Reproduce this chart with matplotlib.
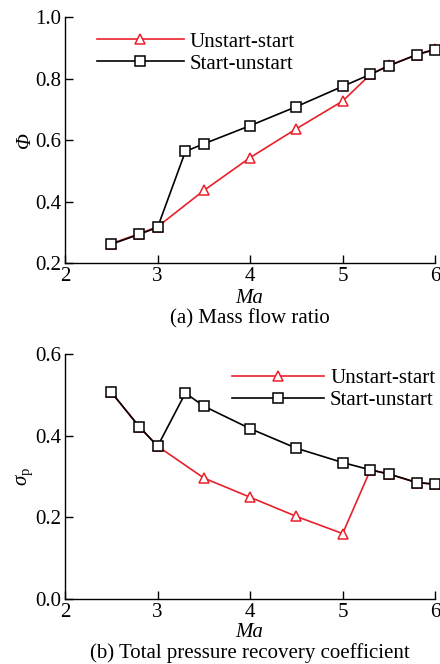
import matplotlib
matplotlib.use("Agg")
import matplotlib.pyplot as plt

plt.rcParams['font.family'] = ['Liberation Serif', 'DejaVu Serif']
plt.rcParams['mathtext.fontset'] = 'custom'
plt.rcParams['mathtext.rm'] = 'Liberation Serif'
plt.rcParams['mathtext.it'] = 'Liberation Serif:italic'

ma_unstart_a = [2.5, 2.8, 3.0, 3.5, 4.0, 4.5, 5.0, 5.3, 5.5, 5.8, 6.0]
phi_unstart = [0.263, 0.295, 0.318, 0.436, 0.543, 0.637, 0.727, 0.814, 0.843, 0.878, 0.897]
ma_start_a = [2.5, 2.8, 3.0, 3.3, 3.5, 4.0, 4.5, 5.0, 5.3, 5.5, 5.8, 6.0]
phi_start = [0.261, 0.293, 0.316, 0.563, 0.588, 0.647, 0.709, 0.775, 0.814, 0.842, 0.878, 0.895]

ma_unstart_b = [2.5, 2.8, 3.0, 3.5, 4.0, 4.5, 5.0, 5.3, 5.5, 5.8, 6.0]
sig_unstart = [0.506, 0.422, 0.374, 0.296, 0.249, 0.202, 0.160, 0.316, 0.306, 0.285, 0.281]
ma_start_b = [2.5, 2.8, 3.0, 3.3, 3.5, 4.0, 4.5, 5.0, 5.3, 5.5, 5.8, 6.0]
sig_start = [0.506, 0.422, 0.374, 0.504, 0.472, 0.417, 0.369, 0.334, 0.316, 0.306, 0.285, 0.281]

xticks = [2, 3, 4, 5, 6]
yticks_a = [0.2, 0.4, 0.6, 0.8, 1.0]
yticks_b = [0.0, 0.2, 0.4, 0.6]

red = '#e8202a'
fig = plt.figure(figsize=(4.4, 6.64), dpi=100)
ax1 = fig.add_axes([0.148, 0.604, 0.841, 0.370])
ax2 = fig.add_axes([0.148, 0.098, 0.841, 0.369])

fs = 15
for ax in (ax1, ax2):
    ax.spines['top'].set_visible(False)
    ax.spines['right'].set_visible(False)
    ax.tick_params(direction='in', length=6, labelsize=fs, width=1)
    ax.tick_params(axis='y', pad=3)
    ax.tick_params(axis='x', pad=3)
    ax.set_xlim(2, 6)
    ax.set_xticks(xticks)
    for s in ('left', 'bottom'):
        ax.spines[s].set_linewidth(1.0)

mk = dict(markersize=7.5, markerfacecolor='white', markeredgewidth=1.1, linewidth=1.2, clip_on=False)
ax1.plot(ma_unstart_a, phi_unstart, color=red, marker='^', label='Unstart-start', **mk)
ax1.plot(ma_start_a, phi_start, color='black', marker='s', label='Start-unstart', **mk)
ax1.set_ylim(0.2, 1.0)
ax1.set_yticks(yticks_a)
ax1.set_yticklabels(['%.1f' % v for v in yticks_a])
ax1.set_ylabel('Φ', fontsize=fs, style='italic', labelpad=0)
ax1.set_xlabel('Ma', fontsize=fs, style='italic')
ax1.xaxis.set_label_coords(0.567, 0.551, transform=fig.transFigure)
ax1.xaxis.label.set_va('center')
ax1.legend(loc='center left', bbox_to_anchor=(0.085, 0.855), frameon=False, fontsize=fs,
           handlelength=4.2, handletextpad=0.25, labelspacing=0.12, borderaxespad=0, borderpad=0)
fig.text(0.567, 0.520, '(a) Mass flow ratio', ha='center', va='center', fontsize=fs)

ax2.plot(ma_unstart_b, sig_unstart, color=red, marker='^', label='Unstart-start', **mk)
ax2.plot(ma_start_b, sig_start, color='black', marker='s', label='Start-unstart', **mk)
ax2.set_ylim(0.0, 0.6)
ax2.set_yticks(yticks_b)
ax2.set_yticklabels(['%.1f' % v for v in yticks_b])
ax2.set_ylabel(r'$\sigma_{\rm p}$', fontsize=fs, labelpad=0)
ax2.set_xlabel('Ma', fontsize=fs, style='italic')
ax2.xaxis.set_label_coords(0.567, 0.047, transform=fig.transFigure)
ax2.xaxis.label.set_va('center')
ax2.legend(loc='center right', bbox_to_anchor=(1.0, 0.855), frameon=False, fontsize=fs,
           handlelength=4.4, handletextpad=0.3, labelspacing=0.12, borderaxespad=0, borderpad=0)
fig.text(0.567, 0.017, '(b) Total pressure recovery coefficient', ha='center', va='center', fontsize=fs)

fig.savefig('out.png', dpi=100)
